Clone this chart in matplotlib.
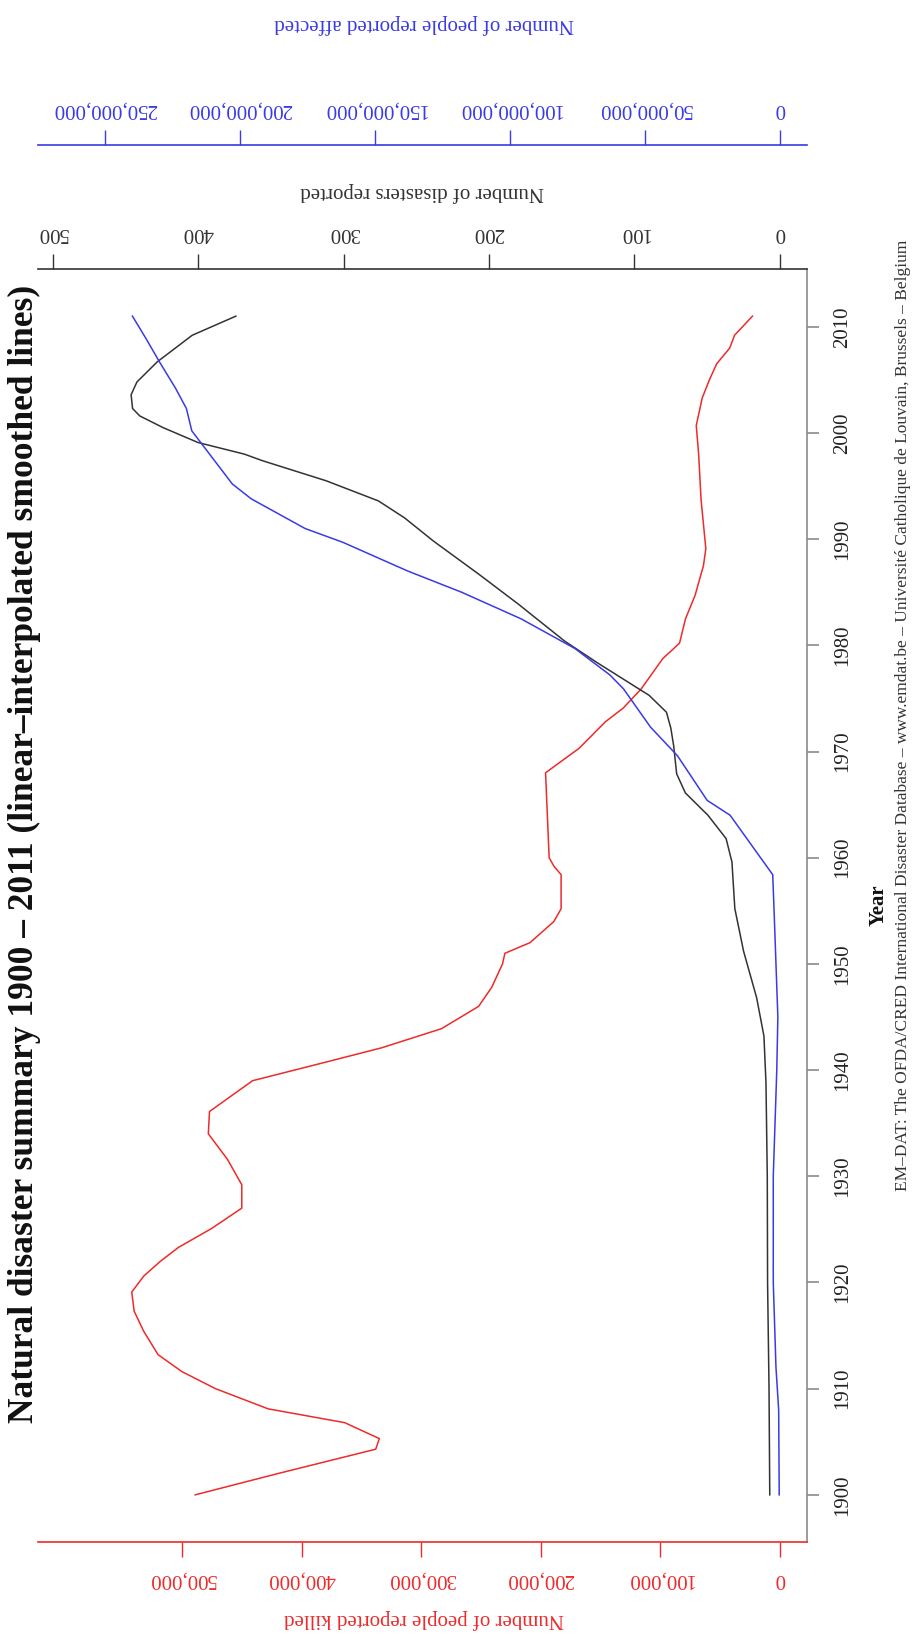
import matplotlib
matplotlib.use("Agg")
import matplotlib.pyplot as plt
from matplotlib.ticker import FuncFormatter

plt.rcParams['font.family'] = ['Liberation Serif', 'DejaVu Serif']

# smoothed series, one list of years per series
killed_years = [1900, 1902, 1904.3, 1905.3, 1906.8, 1908.1, 1910, 1911.6, 1913.2, 1915.4,
                1917.3, 1919.1, 1920.6, 1922, 1923.3, 1925.1, 1927, 1929.2, 1931.6, 1934,
                1936.1, 1939, 1940.6, 1942.1, 1943.9, 1946, 1947.8, 1950, 1951, 1952,
                1954, 1955.2, 1958.4, 1959.2, 1960, 1968, 1970.3, 1972.8, 1974.1, 1975.9,
                1978.75, 1980.2, 1982.5, 1984.7, 1987.5, 1989.1, 1993.75, 1998, 2000.7, 2003.3,
                2005, 2006.5, 2008, 2009.2, 2011]
killed = [489, 420, 338, 335, 364, 428, 472, 500, 520, 532,
          540, 542, 532, 518, 503, 475, 450, 450, 462, 478,
          477, 441, 385, 333, 283, 252, 241, 232, 230, 209,
          189, 183, 183, 189, 193, 196, 168, 146, 131, 116,
          98, 84, 79, 71, 64, 62, 66, 68, 70, 65,
          59, 53, 42, 38, 23]  # thousands

disaster_years = [1900, 1910, 1920, 1930, 1938.8, 1943.2, 1946.8, 1951.2, 1955.2, 1959.6,
                  1961.8, 1964, 1966.1, 1967.9, 1970.5, 1972.2, 1973.7, 1975.3, 1975.9, 1978.4,
                  1980.4, 1983.9, 1986.7, 1989.8, 1992, 1993.6, 1995.5, 1997.4, 1998, 1999.1,
                  2000.5, 2001.6, 2002.3, 2003.6, 2004.8, 2006.7, 2009.2, 2011]
disasters = [7, 7.5, 8.5, 8.7, 9.6, 11, 16, 25, 31, 33,
             37, 49.5, 65, 71, 73, 75, 78, 90, 97, 126,
             148, 180, 207, 238, 258, 276, 312, 356, 368, 400,
             424, 440, 445, 446, 442, 428, 404, 374]

affected_years = [1900, 1908, 1912, 1920, 1930, 1940, 1945, 1950, 1955, 1958.4,
                  1964, 1965.4, 1969.6, 1972.3, 1975.9, 1977.2, 1979.7, 1982.5, 1985, 1987,
                  1989.7, 1991, 1993.8, 1995.2, 1997.2, 1999.2, 2000.2, 2002.3, 2004.2, 2006.7,
                  2008.9, 2011]
affected = [0.3, 0.5, 1.5, 2.5, 2.5, 1.2, 0.8, 1.5, 2.2, 2.7,
            18.5, 27, 38, 48, 58, 63, 76, 96, 118, 138,
            162, 176, 196, 203, 209, 215, 218, 220, 224, 230,
            235, 240]  # millions

year_ticks = list(range(1900, 2011, 10))
killed_ticks = [0, 100000, 200000, 300000, 400000, 500000]
disaster_ticks = [0, 100, 200, 300, 400, 500]
affected_ticks = [0, 50e6, 100e6, 150e6, 200e6, 250e6]

RED = '#ee2a2a'
BLUE = '#3a3ae6'
BLACK = '#333333'
GREY = '#8a8a8a'

W, H = 914, 1634
fig = plt.figure(figsize=(W / 100, H / 100), dpi=100)
ax = fig.add_axes([38 / W, 1 - 1542 / H, (807 - 38) / W, (1542 - 269) / H])

commas = FuncFormatter(lambda v, p: f'{int(round(v)):,}')

# killed: bottom axis, values grow to the left
ax.plot([k * 1000 for k in killed], killed_years, color=RED, lw=1.1)
ax.set_xlim(620400, -22600)
ax.set_ylim(1895.56, 2015.44)
ax.set_xticks(killed_ticks)
ax.xaxis.set_major_formatter(commas)
ax.tick_params(axis='x', direction='out', length=10.5, width=1, pad=9,
               colors=RED, labelsize=15, labelrotation=180)
ax.yaxis.tick_right()
ax.set_yticks(year_ticks)
ax.tick_params(axis='y', direction='out', length=8.5, width=1.2, pad=10,
               color=GREY, labelcolor='#222222', labelsize=15, labelrotation=90)
for lab in ax.get_yticklabels():
    lab.set_va('center')
ax.spines['left'].set_visible(False)
ax.spines['top'].set_visible(False)
ax.spines['right'].set_color(GREY)
ax.spines['right'].set_linewidth(1.2)
ax.spines['bottom'].set_color(RED)
ax.spines['bottom'].set_linewidth(1.2)

# disasters: top axis
ax2 = ax.twiny()
ax2.plot(disasters, disaster_years, color=BLACK, lw=1.1)
ax2.set_xlim(510, -18.6)
ax2.set_xticks(disaster_ticks)
ax2.tick_params(axis='x', direction='out', length=10.5, width=1, pad=9,
                colors=BLACK, labelsize=15, labelrotation=180)
for s in ['left', 'right', 'bottom']:
    ax2.spines[s].set_visible(False)
ax2.spines['top'].set_color(BLACK)
ax2.spines['top'].set_linewidth(1.2)

# people affected: detached top axis
ax3 = ax.twiny()
ax3.plot([a * 1e6 for a in affected], affected_years, color=BLUE, lw=1.1)
ax3.set_xlim(275e6, -10e6)
ax3.set_xticks(affected_ticks)
ax3.xaxis.set_major_formatter(commas)
ax3.tick_params(axis='x', direction='out', length=10.5, width=1, pad=9,
                colors=BLUE, labelsize=15, labelrotation=180)
for s in ['left', 'right', 'bottom']:
    ax3.spines[s].set_visible(False)
ax3.spines['top'].set_position(('outward', 89))
ax3.spines['top'].set_color(BLUE)
ax3.spines['top'].set_linewidth(1.2)

fig.text(424 / W, 1 - 24 / H, 'Number of people reported affected', color=BLUE,
         size=15, rotation=180, ha='center', va='center')
fig.text(422 / W, 1 - 192 / H, 'Number of disasters reported', color=BLACK,
         size=15, rotation=180, ha='center', va='center')
fig.text(424 / W, 1 - 1619 / H, 'Number of people reported killed', color=RED,
         size=15, rotation=180, ha='center', va='center')

fig.text(24 / W, 1 - 854 / H,
         'Natural disaster summary 1900 \u2013 2011 (linear\u2013interpolated smoothed lines)',
         size=25.5, fontweight='bold', rotation=90, ha='center', va='center', color='#111111')
fig.text(879 / W, 1 - 905 / H, 'Year', size=15, fontweight='bold', rotation=90,
         ha='center', va='center', color='#111111')
fig.text(903 / W, 1 - 240 / H,
         'EM\u2013DAT: The OFDA/CRED International Disaster Database \u2013 www.emdat.be \u2013 '
         'Universit\u00e9 Catholique de Louvain, Brussels \u2013 Belgium',
         size=12.5, rotation=90, ha='center', va='top', color='#333333')

fig.savefig('out.png', dpi=100)
